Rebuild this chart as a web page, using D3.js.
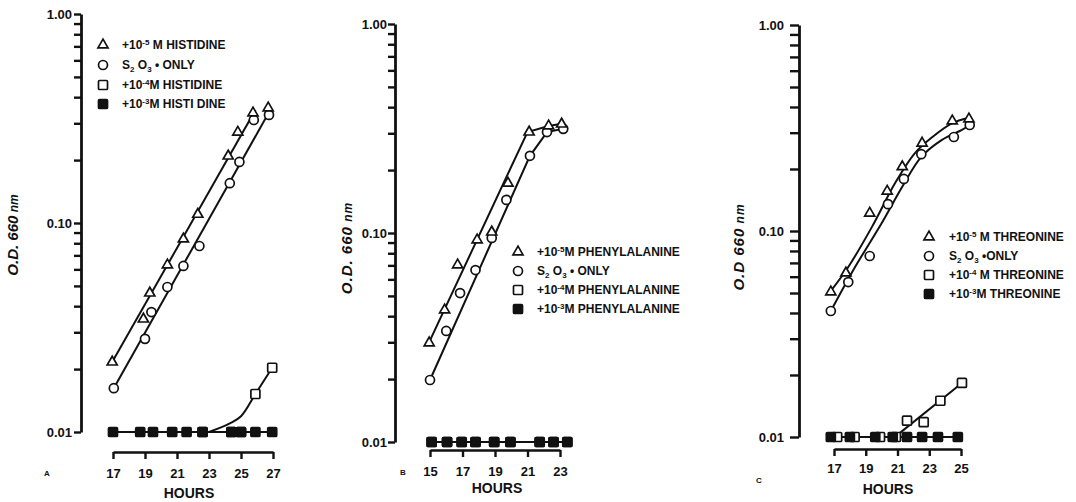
<!DOCTYPE html>
<html>
<head>
<meta charset="utf-8">
<script src="https://cdn.jsdelivr.net/npm/d3@7"></script>
<style>
  body { margin: 0; background: #fff; }
  svg { display: block; }
  text { font-family: "Liberation Sans", Arial, sans-serif; font-weight: bold; fill: #111; }
</style>
</head>
<body>
<svg id="chart" width="1076" height="502"></svg>
<script>
// ---- data: [hours, O.D. 660 nm] ----

// A : histidine
const histTri = [[16.95, 0.0216], [18.9, 0.0347], [19.3, 0.0462], [20.4, 0.063], [21.4, 0.0838], [22.3, 0.11], [24.2, 0.209], [24.8, 0.272], [25.75, 0.336], [26.7, 0.355]]
const histCirc = [[17.05, 0.0162], [19.0, 0.0279], [19.4, 0.0375], [20.4, 0.0494], [21.4, 0.0623], [22.4, 0.0776], [24.3, 0.155], [24.9, 0.196], [25.8, 0.311], [26.75, 0.329]]
const histOpen = [[22.6, 0.01], [24.4, 0.01], [25.0, 0.01], [25.9, 0.0152], [26.95, 0.0203]]
const histFilled = [[17.0, 0.01], [18.7, 0.01], [19.5, 0.01], [20.7, 0.01], [21.6, 0.01], [22.6, 0.01], [24.4, 0.01], [25.0, 0.01], [25.9, 0.01], [26.95, 0.01]]
// drawn curves
const histTriFit = [[16.95, 0.0216], [25.9, 0.347]]
const histCircFit = [[17.05, 0.0162], [26.8, 0.344]]
const histOpenFit = [[23.0, 0.01], [24.3, 0.011], [25.0, 0.0119], [25.9, 0.0152], [26.95, 0.0203]]

// B : phenylalanine
const pheTri = [[14.95, 0.0298], [15.9, 0.0428], [16.7, 0.0703], [17.9, 0.0926], [18.8, 0.101], [19.8, 0.173], [21.1, 0.304], [22.3, 0.325], [23.1, 0.332]]
const pheCirc = [[15.0, 0.0198], [16.0, 0.034], [16.85, 0.0516], [17.8, 0.0665], [18.8, 0.0947], [19.7, 0.144], [21.15, 0.234], [22.2, 0.304], [23.2, 0.315]]
const pheOpen = [[15.1, 0.01], [16.05, 0.01], [16.95, 0.01], [17.8, 0.01], [18.95, 0.01], [19.95, 0.01], [21.75, 0.01], [22.6, 0.01], [23.45, 0.01]]
const pheFilled = [[15.1, 0.01], [16.05, 0.01], [16.95, 0.01], [17.8, 0.01], [18.95, 0.01], [19.95, 0.01], [21.75, 0.01], [22.6, 0.01], [23.45, 0.01]]
const pheTriFit = [[14.9, 0.0295], [21.0, 0.304], [22.3, 0.325], [23.1, 0.333]]
const pheCircFit = [[15.0, 0.0198], [21.15, 0.234], [22.2, 0.304], [23.2, 0.315]]

// C : threonine
const thrTri = [[16.8, 0.0506], [17.75, 0.0625], [19.25, 0.122], [20.35, 0.156], [21.3, 0.205], [22.55, 0.267], [24.45, 0.342], [25.5, 0.35]]
const thrCirc = [[16.8, 0.0409], [17.9, 0.0565], [19.25, 0.0756], [20.4, 0.135], [21.4, 0.179], [22.5, 0.236], [24.55, 0.286], [25.55, 0.327]]
const thrOpen = [[17.2, 0.01], [18.3, 0.01], [19.9, 0.01], [20.9, 0.01], [21.6, 0.012], [22.65, 0.0118], [23.7, 0.015], [25.06, 0.0183]]
const thrFilled = [[16.8, 0.01], [18.0, 0.01], [19.6, 0.01], [20.7, 0.01], [21.6, 0.01], [22.55, 0.01], [23.55, 0.01], [24.8, 0.01]]
const thrTriFit = [[16.75, 0.0506], [17.9, 0.0669], [19.4, 0.105], [20.85, 0.171], [22.1, 0.239], [23.2, 0.286], [24.45, 0.334], [25.45, 0.354]]
const thrCircFit = [[16.8, 0.0409], [18.3, 0.0663], [20.0, 0.109], [21.3, 0.164], [22.5, 0.229], [23.8, 0.277], [25.06, 0.31], [25.57, 0.327]]
const thrOpenFit = [[20.9, 0.0101], [25.06, 0.0183]]

// axis ticks
const hourTicksA = [17, 19, 21, 23, 25, 27]
const hourTicksB = [15, 17, 19, 21, 23]
const hourTicksC = [17, 19, 21, 23, 25]
const odLabels = { '-2': '0.01', '-1': '0.10', '0': '1.00' }

// legend texts: [text, 'sup' | 'sub' | undefined]
const legendA = [
	[['+10'], ['-5', 'sup'], [' M  HISTIDINE']],
	[['S'], ['2', 'sub'], [' O'], ['3', 'sub'], [' • ONLY']],
	[['+10'], ['-4', 'sup'], ['M  HISTIDINE']],
	[['+10'], ['-3', 'sup'], ['M  HISTI DINE']],
]
const legendB = [
	[['+10'], ['-5', 'sup'], ['M  PHENYLALANINE']],
	[['S'], ['2', 'sub'], [' O'], ['3', 'sub'], ['  • ONLY']],
	[['+10'], ['-4', 'sup'], ['M  PHENYLALANINE']],
	[['+10'], ['-3', 'sup'], ['M  PHENYLALANINE']],
]
const legendC = [
	[['+10'], ['-5', 'sup'], [' M THREONINE']],
	[['S'], ['2', 'sub'], [' O'], ['3', 'sub'], [' •ONLY']],
	[['+10'], ['-4', 'sup'], [' M THREONINE']],
	[['+10'], ['-3', 'sup'], ['M THREONINE']],
]
const legendSymbols = ['tri', 'circ', 'open', 'filled']

const svg = d3.select('#chart')
const ink = '#111'

function drawSymbol(g, type, cx, cy) {
	if (type === 'tri') {
		g.append('path')
			.attr('d', d3.symbol(d3.symbolTriangle, 44)())
			.attr('transform', `translate(${cx},${cy})`)
			.attr('fill', '#fff').attr('stroke', ink).attr('stroke-width', 1.7)
	} else if (type === 'circ') {
		g.append('circle').attr('cx', cx).attr('cy', cy).attr('r', 4.5)
			.attr('fill', '#fff').attr('stroke', ink).attr('stroke-width', 1.7)
	} else {
		g.append('rect').attr('x', cx - 4.5).attr('y', cy - 4.5).attr('width', 9).attr('height', 9)
			.attr('rx', 1)
			.attr('fill', type === 'filled' ? ink : '#fff').attr('stroke', ink).attr('stroke-width', 1.7)
	}
}

function drawPanel(p) {
	const x = d3.scaleLinear().domain(p.xDomain).range(p.xRange)
	const y = d3.scaleLog().domain([0.01, 1]).range(p.yRange)
	const g = svg.append('g')

	// y axis
	const yAxis = g.append('g')
		.attr('transform', `translate(${p.yAxisX},0)`)
		.call(d3.axisLeft(y).tickValues(y.ticks()).tickSize(p.yTickSize).tickSizeOuter(0).tickPadding(p.yTickPad)
			.tickFormat((d) => {
				const k = Math.log10(d)
				return Math.abs(k - Math.round(k)) < 1e-9 ? odLabels[String(Math.round(k))] : ''
			}))
	yAxis.select('.domain').attr('stroke', ink).attr('stroke-width', 2.8)
	yAxis.selectAll('.tick line').attr('stroke', ink).attr('stroke-width', 2.4)
	yAxis.selectAll('.tick text').attr('font-size', 13).attr('fill', ink).attr('font-family', null)

	// x axis
	const xAxis = g.append('g')
		.attr('transform', `translate(0,${p.xAxisY})`)
		.call(d3.axisBottom(x).tickValues(p.xTicks).tickSize(7).tickSizeOuter(0).tickPadding(p.xTickPad))
	xAxis.select('.domain').attr('stroke', ink).attr('stroke-width', 2.6)
	xAxis.selectAll('.tick line').attr('stroke', ink).attr('stroke-width', 2.4)
	xAxis.selectAll('.tick text').attr('font-size', 13).attr('fill', ink).attr('font-family', null)

	g.append('text').attr('x', p.hoursPos[0]).attr('y', p.hoursPos[1])
		.attr('text-anchor', 'middle').attr('font-size', 14).text('HOURS')

	// y label
	const yl = g.append('text')
		.attr('transform', `translate(${p.yLabelPos[0]},${p.yLabelPos[1]}) rotate(-90)`)
		.attr('text-anchor', 'middle').attr('font-size', 15).attr('font-style', 'italic')
		.attr('letter-spacing', p.yLabelSpacing)
	yl.append('tspan').text(p.yLabelText)
	yl.append('tspan').attr('font-size', 12).text(' nm')

	// panel letter
	g.append('text').attr('x', p.letterPos[0]).attr('y', p.letterPos[1]).attr('font-size', 8).text(p.letter)

	const line = d3.line().x((d) => x(d[0])).y((d) => y(d[1]))
	const curve = d3.line().x((d) => x(d[0])).y((d) => y(d[1])).curve(p.curve || d3.curveLinear)

	const lineStyle = (sel) => sel.attr('fill', 'none').attr('stroke', ink).attr('stroke-width', 2)
	g.append('path').datum(p.filled).attr('d', line).call(lineStyle)
	g.append('path').datum(p.openFit).attr('d', curve).call(lineStyle)
	g.append('path').datum(p.triFit).attr('d', curve).call(lineStyle)
	g.append('path').datum(p.circFit).attr('d', curve).call(lineStyle)

	p.open.forEach((d) => drawSymbol(g, 'open', x(d[0]), y(d[1])))
	p.filled.forEach((d) => drawSymbol(g, 'filled', x(d[0]), y(d[1])))
	p.circ.forEach((d) => drawSymbol(g, 'circ', x(d[0]), y(d[1])))
	p.tri.forEach((d) => drawSymbol(g, 'tri', x(d[0]), y(d[1])))

	// legend
	p.legend.forEach((parts, i) => {
		const ly = p.legendY[i]
		drawSymbol(g, legendSymbols[i], p.legendSymX, ly)
		const t = g.append('text').attr('x', p.legendTextX).attr('y', ly + 4).attr('font-size', 12)
		let shift = 0
		parts.forEach(([s, kind]) => {
			const ts = t.append('tspan').text(s)
			const want = kind === 'sup' ? -4 : kind === 'sub' ? 3 : 0
			ts.attr('dy', want - shift)
			if (kind) ts.attr('font-size', 8)
			shift = want
		})
	})
}

drawPanel({
	xDomain: [17, 27], xRange: [113, 273], yRange: [432, 14],
	yAxisX: 81, yTickSize: 7, yTickPad: 2, xAxisY: 452, xTicks: hourTicksA, xTickPad: 10,
	hoursPos: [189, 498], yLabelPos: [18, 235], yLabelText: 'O.D. 660', yLabelSpacing: 0,
	letter: 'A', letterPos: [44, 476],
	tri: histTri, circ: histCirc, open: histOpen, filled: histFilled,
	triFit: histTriFit, circFit: histCircFit, openFit: histOpenFit, curve: d3.curveCatmullRom,
	legend: legendA, legendSymX: 103, legendTextX: 122, legendY: [45, 65, 85, 104],
})

drawPanel({
	xDomain: [15, 23], xRange: [430, 560], yRange: [442, 24],
	yAxisX: 395, yTickSize: 7, yTickPad: 1, xAxisY: 450, xTicks: hourTicksB, xTickPad: 10,
	hoursPos: [497, 493], yLabelPos: [352, 248], yLabelText: 'O.D.  660', yLabelSpacing: 1,
	letter: 'B', letterPos: [400, 475],
	tri: pheTri, circ: pheCirc, open: pheOpen, filled: pheFilled,
	triFit: pheTriFit, circFit: pheCircFit, openFit: [], curve: d3.curveLinear,
	legend: legendB, legendSymX: 518, legendTextX: 537, legendY: [252, 271, 290, 309],
})

drawPanel({
	xDomain: [17, 25], xRange: [834, 961], yRange: [437, 25],
	yAxisX: 799, yTickSize: 9, yTickPad: 6, xAxisY: 449, xTicks: hourTicksC, xTickPad: 8,
	hoursPos: [888, 494], yLabelPos: [744, 247], yLabelText: 'O.D  660', yLabelSpacing: 1,
	letter: 'C', letterPos: [756, 483],
	tri: thrTri, circ: thrCirc, open: thrOpen, filled: thrFilled,
	triFit: thrTriFit, circFit: thrCircFit, openFit: thrOpenFit, curve: d3.curveCatmullRom,
	legend: legendC, legendSymX: 929, legendTextX: 949, legendY: [237, 256, 275, 294],
})
</script>
</body>
</html>
